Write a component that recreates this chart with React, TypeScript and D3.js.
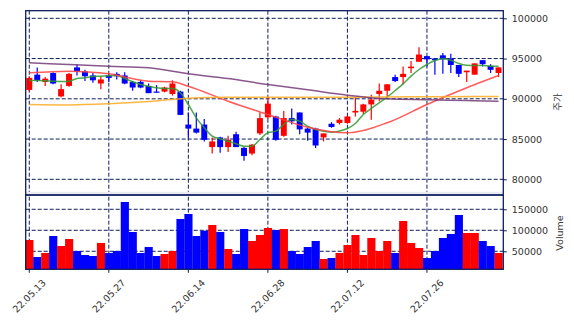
import { useEffect, useRef } from 'react';
import * as d3 from 'd3';

// trading days shown (KRX, 2022)
const dates = [
  '2022-05-13', '2022-05-16', '2022-05-17', '2022-05-18', '2022-05-19', '2022-05-20', '2022-05-23', '2022-05-24', '2022-05-25', '2022-05-26',
  '2022-05-27', '2022-05-30', '2022-05-31', '2022-06-02', '2022-06-03', '2022-06-07', '2022-06-08', '2022-06-09', '2022-06-10', '2022-06-13',
  '2022-06-14', '2022-06-15', '2022-06-16', '2022-06-17', '2022-06-20', '2022-06-21', '2022-06-22', '2022-06-23', '2022-06-24', '2022-06-27',
  '2022-06-28', '2022-06-29', '2022-06-30', '2022-07-01', '2022-07-04', '2022-07-05', '2022-07-06', '2022-07-07', '2022-07-08', '2022-07-11',
  '2022-07-12', '2022-07-13', '2022-07-14', '2022-07-15', '2022-07-18', '2022-07-19', '2022-07-20', '2022-07-21', '2022-07-22', '2022-07-25',
  '2022-07-26', '2022-07-27', '2022-07-28', '2022-07-29', '2022-08-01', '2022-08-02', '2022-08-03', '2022-08-04', '2022-08-05', '2022-08-08',
];

const opens = [
  91100, 93000, 92100, 93200, 90300, 91600, 93900, 93400, 92900, 91900,
  92900, 93100, 92900, 92100, 92100, 91600, 90900, 90900, 90600, 90900,
  86800, 86300, 86800, 84000, 85200, 84000, 85600, 83900, 83200, 85700,
  87700, 87800, 85400, 87600, 88300, 86300, 86300, 85200, 86900, 87000,
  87000, 88300, 88400, 89300, 90600, 91000, 92700, 92700, 93800, 94600,
  95300, 95000, 95400, 95000, 94200, 93300, 93000, 94800, 94100, 93200,
];
const highs = [
  92800, 93900, 92700, 93300, 91800, 93200, 94300, 93600, 93200, 92800,
  93100, 93300, 93300, 92200, 92300, 91900, 91700, 91500, 92300, 91000,
  88300, 88300, 87500, 85200, 85300, 85400, 85900, 84000, 84400, 88300,
  90200, 87900, 88500, 88800, 88300, 86400, 86400, 85700, 87100, 87600,
  87900, 90200, 89400, 90500, 91900, 91800, 93000, 94000, 94700, 96400,
  95300, 95000, 95700, 95600, 94200, 93500, 94400, 94800, 94300, 93900,
];
const lows = [
  90900, 92100, 91600, 91800, 90200, 91500, 92900, 92200, 92000, 91200,
  92100, 92400, 91800, 91000, 91300, 90700, 90800, 90800, 90400, 88000,
  85200, 85700, 84700, 83200, 83300, 83400, 84000, 82300, 83000, 85500,
  87500, 84800, 85300, 86800, 85600, 84800, 83900, 84700, 86400, 86800,
  86900, 87800, 88100, 87400, 89700, 90200, 92100, 91800, 93200, 94600,
  94000, 93000, 93100, 93200, 92700, 92100, 93000, 94000, 93200, 92700,
];
const closes = [
  92600, 92300, 92500, 91900, 91200, 93100, 93400, 92800, 92300, 92400,
  92600, 92800, 91900, 91400, 91400, 90700, 90800, 91400, 91900, 88000,
  86300, 85800, 84900, 84700, 84000, 84900, 84000, 82900, 84300, 87600,
  89400, 84900, 87600, 87200, 86200, 85800, 84200, 85700, 86500, 87400,
  87800, 88500, 89300, 89900, 91000, 91800, 92200, 93100, 94000, 95500,
  94900, 94800, 94900, 94200, 93100, 93500, 94400, 94300, 93600, 93900,
];
const volumes = [
  76900, 36400, 46000, 86400, 62600, 79300, 50700, 41200, 38800, 69800,
  46000, 50700, 167400, 96000, 46000, 60200, 38800, 43600, 50700, 126900,
  138800, 86400, 99000, 112600, 96000, 55500, 43600, 103100, 74500, 88800,
  105500, 100700, 103100, 50700, 43600, 60200, 74500, 31700, 34000, 46000,
  65000, 88800, 41200, 81700, 50700, 74500, 46000, 122100, 69800, 57900,
  34000, 50700, 81700, 91200, 136400, 93600, 93600, 74500, 62600, 46000,
];

// moving averages (index -> value)
const ma5 = [
  92270, 92270, 92240, 92190, 92150, 92190, 92520, 92610, 92770, 92810,
  92860, 92890, 92520, 92110, 91780, 91570, 91370, 91280, 91280, 90750,
  89290, 87640, 86400, 85360, 85030, 84730, 84410, 84110, 84110, 84950,
  85780, 85980, 86810, 87430, 87220, 86600, 86190, 85980, 85850, 86000,
  86310, 86930, 88050, 88800, 89500, 90200, 91030, 91860, 92810, 93640,
  94260, 94760, 94970, 94790, 94380, 94170, 94140, 94140, 94050, 94050,
];
const ma20Idx = [0, 5, 10, 15, 18, 20, 25, 30, 35, 40, 45, 50, 55, 59];
const ma20 = [93230, 93430, 93100, 92190, 92110, 91570, 89700, 88050, 86470, 85780, 87020, 89290, 91370, 92890];
const ma60Idx = [0, 5, 10, 15, 20, 25, 30, 40, 50, 59];
const ma60 = [89290, 89230, 89380, 89670, 90080, 90190, 90200, 90190, 90250, 90290];
const ma120Idx = [0, 5, 10, 15, 20, 25, 30, 35, 40, 45, 50, 55, 59];
const ma120 = [94470, 94260, 94050, 93850, 93110, 92520, 91780, 91120, 90450, 90000, 89880, 89790, 89700];

const priceTicks = [80000, 85000, 90000, 95000, 100000];
const volumeTicks = [50000, 100000, 150000];
const dateTickIdx = [0, 10, 20, 30, 40, 50];

const W = 574;
const H = 326;
const box = { left: 25.7, right: 503.3, top: 10.7, mid: 195, bottom: 269.3 };
const UP = '#ff0000';
const DOWN = '#0000ff';
const NAVY = '#0d1d5e';
const TEXT = '#333';
const FONT = '"DejaVu Sans", "Noto Sans CJK KR", sans-serif';

export default function App() {
  const ref = useRef<SVGSVGElement | null>(null);

  useEffect(() => {
    if (!ref.current) return;
    const svg = d3.select(ref.current);
    svg.selectAll('*').remove();

    const x = d3.scaleLinear().domain([-0.45, dates.length - 0.4]).range([box.left, box.right]);
    const y = d3.scaleLinear().domain([78050, 100944]).range([box.mid, box.top]);
    const yv = d3.scaleLinear().domain([7143, 184000]).range([box.bottom, box.mid]);
    const step = x(1) - x(0);
    const bodyW = step * 0.75;
    const fmt = d3.timeFormat('%y.%m.%d');
    const parse = d3.timeParse('%Y-%m-%d');

    // grid
    const grid = svg.append('g')
      .attr('stroke', NAVY)
      .attr('stroke-width', 1)
      .attr('stroke-dasharray', '4,2');
    grid.selectAll('.gx').data(dateTickIdx).enter().append('line')
      .attr('x1', d => x(d)).attr('x2', d => x(d))
      .attr('y1', box.top).attr('y2', box.bottom);
    grid.selectAll('.gy').data(priceTicks).enter().append('line')
      .attr('x1', box.left).attr('x2', box.right)
      .attr('y1', d => y(d)).attr('y2', d => y(d));
    grid.selectAll('.gv').data(volumeTicks).enter().append('line')
      .attr('x1', box.left).attr('x2', box.right)
      .attr('y1', d => yv(d)).attr('y2', d => yv(d));

    const idx = d3.range(dates.length);
    const colorOf = (i: number) => (closes[i] > opens[i] ? UP : DOWN);

    // volume bars
    svg.append('g').selectAll('rect').data(idx).enter().append('rect')
      .attr('x', i => x(i) - step / 2)
      .attr('width', step + 0.2)
      .attr('y', i => yv(volumes[i]))
      .attr('height', i => box.bottom - yv(volumes[i]))
      .attr('fill', colorOf);

    // candles
    const candles = svg.append('g');
    candles.selectAll('line').data(idx).enter().append('line')
      .attr('x1', i => x(i)).attr('x2', i => x(i))
      .attr('y1', i => y(highs[i])).attr('y2', i => y(lows[i]))
      .attr('stroke', colorOf)
      .attr('stroke-width', 1.2);
    candles.selectAll('rect').data(idx).enter().append('rect')
      .attr('x', i => x(i) - bodyW / 2)
      .attr('width', bodyW)
      .attr('y', i => y(Math.max(opens[i], closes[i])))
      .attr('height', i => Math.max(1.2, Math.abs(y(opens[i]) - y(closes[i]))))
      .attr('fill', colorOf);

    // moving averages
    const mas: { xs: number[]; vs: number[]; color: string }[] = [
      { xs: idx, vs: ma5, color: '#2f9a2f' },
      { xs: ma20Idx, vs: ma20, color: '#ff4040' },
      { xs: ma60Idx, vs: ma60, color: '#ffaa22' },
      { xs: ma120Idx, vs: ma120, color: '#763a78' },
    ];
    const line = d3.line<[number, number]>()
      .x(d => x(d[0]))
      .y(d => y(d[1]))
      .curve(d3.curveMonotoneX);
    mas.forEach(m => {
      svg.append('path')
        .attr('d', line(m.xs.map((xi, k) => [xi, m.vs[k]] as [number, number])))
        .attr('fill', 'none')
        .attr('stroke', m.color)
        .attr('stroke-opacity', 0.85)
        .attr('stroke-width', 1.5);
    });

    // light strip under price panel
    svg.append('rect')
      .attr('x', box.left).attr('width', box.right - box.left)
      .attr('y', box.mid - 3.2).attr('height', 3)
      .attr('fill', '#ebebf2');

    // frames
    const frames = svg.append('g').attr('fill', 'none').attr('stroke', NAVY).attr('stroke-width', 1.3);
    frames.append('rect')
      .attr('x', box.left).attr('y', box.top)
      .attr('width', box.right - box.left).attr('height', box.mid - box.top);
    frames.append('rect')
      .attr('x', box.left).attr('y', box.mid)
      .attr('width', box.right - box.left).attr('height', box.bottom - box.mid);

    // right axes
    const rightAxis = (scale: d3.ScaleLinear<number, number>, ticks: number[]) => {
      const g = svg.append('g').attr('transform', `translate(${box.right},0)`);
      g.call(d3.axisRight(scale).tickValues(ticks).tickSize(3.5).tickPadding(5).tickFormat(d3.format('d')));
      g.select('.domain').remove();
      g.selectAll('line').attr('stroke', NAVY);
      g.selectAll('text')
        .attr('font-family', FONT)
        .attr('font-size', '9.5px')
        .attr('fill', TEXT);
    };
    rightAxis(y, priceTicks);
    rightAxis(yv, volumeTicks);

    // bottom ticks + rotated date labels
    const bottom = svg.append('g');
    bottom.selectAll('line').data(dateTickIdx).enter().append('line')
      .attr('x1', d => x(d)).attr('x2', d => x(d))
      .attr('y1', box.bottom).attr('y2', box.bottom + 3.5)
      .attr('stroke', NAVY).attr('stroke-width', 1);
    bottom.selectAll('text').data(dateTickIdx).enter().append('text')
      .attr('transform', d => `translate(${x(d)},296) rotate(-45)`)
      .attr('text-anchor', 'middle')
      .attr('dy', '0.35em')
      .attr('font-family', FONT)
      .attr('font-size', '9.5px')
      .attr('fill', TEXT)
      .text(d => fmt(parse(dates[d]) as Date));

    // axis titles
    svg.append('text')
      .attr('transform', `translate(561,102) rotate(-90)`)
      .attr('text-anchor', 'middle')
      .attr('font-family', FONT)
      .attr('font-size', '9.5px')
      .attr('fill', TEXT)
      .text('주가');
    svg.append('text')
      .attr('transform', `translate(563,233) rotate(-90)`)
      .attr('text-anchor', 'middle')
      .attr('font-family', FONT)
      .attr('font-size', '9.5px')
      .attr('fill', TEXT)
      .text('Volume');
  }, []);

  return (
    <svg
      ref={ref}
      width={W}
      height={H}
      style={{ position: 'absolute', left: 0, top: 0, background: '#fff' }}
    />
  );
}
